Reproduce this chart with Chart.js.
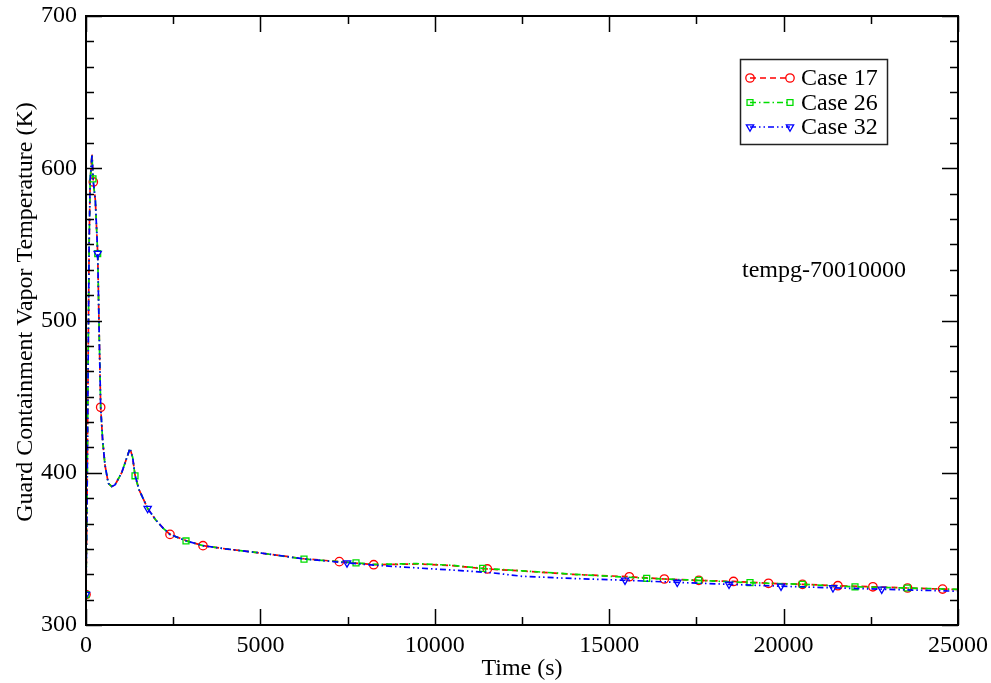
<!DOCTYPE html>
<html>
<head>
<meta charset="utf-8">
<script src="https://cdn.jsdelivr.net/npm/chart.js@4/dist/chart.umd.min.js"></script>
<style>
  body { margin: 0; background: #fff; }
  #wrap { width: 991px; height: 683px; }
</style>
</head>
<body>
<div id="wrap"><canvas id="myChart" width="991" height="683"></canvas></div>
<script>
// values (time in s, temperature in K)
let t17 = [0, 30, 60, 90, 120, 172, 210, 268, 335, 382, 421, 478, 545, 640, 736, 831, 1023, 1261, 1338, 1405, 1519, 1768, 2000, 2217, 2408, 2867, 3354, 4000, 5000, 6250, 7263, 8248, 9480, 10500, 11506, 12500, 14000, 15577, 16580, 17569, 18564, 19567, 20542, 21557, 22560, 23554, 24558, 25000];
let v17 = [320, 380, 470, 550, 592, 609, 591, 579, 544, 487, 443, 421, 405, 393, 391, 392, 400, 416, 410, 398.5, 389, 376.5, 369, 363.5, 359.5, 355.5, 352.1, 350, 347.3, 343.5, 341.6, 339.6, 340.1, 339, 336.8, 335.5, 333.2, 331.7, 330.2, 329.3, 328.6, 327.4, 326.7, 325.8, 325.1, 324.3, 323.6, 323.3];
let mark17 = [0, 210, 421, 2408, 3354, 7263, 8248, 11506, 15577, 16580, 17569, 18564, 19567, 20542, 21557, 22560, 23554, 24558];

let t26 = [0, 30, 60, 90, 120, 172, 200, 268, 335, 382, 421, 478, 545, 640, 736, 831, 1023, 1261, 1338, 1405, 1519, 1768, 2000, 2217, 2408, 2867, 3354, 4000, 5000, 6250, 7263, 7741, 8248, 9480, 10500, 11373, 12500, 14000, 16075, 17566, 19037, 20536, 22047, 23547, 25000];
let v26 = [320, 380, 470, 550, 592, 609, 593, 579, 544, 487, 443, 421, 405, 393, 391, 392, 400, 416, 410, 398, 389, 376.5, 369, 363.5, 359.5, 355.2, 352.1, 350, 347.3, 343.3, 341.6, 340.8, 339.8, 340.3, 339.2, 337.2, 335.6, 333.3, 330.7, 329.3, 327.8, 326.7, 325.1, 324.3, 323.4];
let mark26 = [0, 200, 335, 1405, 2867, 6250, 7741, 11373, 16075, 17566, 19037, 20536, 22047, 23547];

let t32 = [0, 30, 60, 90, 120, 172, 210, 268, 335, 382, 421, 478, 545, 640, 736, 831, 1023, 1261, 1338, 1405, 1519, 1768, 2000, 2217, 2408, 2867, 3354, 4000, 5000, 6250, 7483, 8248, 9480, 10915, 11677, 12500, 14000, 15453, 16952, 18435, 19926, 21416, 22813, 25000];
let v32 = [320, 380, 470, 550, 592, 609, 591, 579, 544, 487, 443, 421, 405, 393, 391, 392, 400, 416, 410, 398.5, 389, 376.5, 369, 363.5, 359.5, 355.3, 352.1, 350, 347.3, 343.4, 340.8, 339.3, 337.5, 335.5, 334.2, 332, 330.5, 329.4, 328, 326.7, 325.5, 324.4, 323.5, 322.2];
let mark32 = [0, 335, 1768, 7483, 15453, 16952, 18435, 19926, 21416, 22813];

let seriesNames = ['Case 17', 'Case 26', 'Case 32'];
let noteText = 'tempg-70010000';
let yTitle = 'Guard Containment Vapor Temperature (K)';

const FONT = "'Liberation Serif', 'Times New Roman', serif";
const FSIZE = 24;

function toPoints(ts, vs) {
    return ts.map((t, i) => ({ x: t, y: vs[i] }));
}

function markRadius(marks) {
    return function(ctx) {
        let p = ctx.raw;
        return p && marks.includes(p.x) ? 4.2 : 0;
    };
}

// scale boxes with exact sizes and no label overhang padding
function fixBox(w, h) {
    return function(s) {
        if (w) s.width = w;
        if (h) s.height = h;
        s.paddingTop = 0;
        s.paddingBottom = 0;
        s.paddingLeft = 0;
        s.paddingRight = 0;
    };
}

// inward ticks and box frame like the original plot
const framePlugin = {
    id: 'frame',
    afterDatasetsDraw(chart) {
        const ctx = chart.ctx;
        const a = chart.chartArea;
        const xs = chart.scales.x;
        const ys = chart.scales.y;
        ctx.save();
        ctx.strokeStyle = '#000';
        ctx.lineWidth = 1.5;
        for (let v = 0; v <= 25000; v += 2500) {
            let px = Math.round(xs.getPixelForValue(v)) + 0.5;
            let len = (v % 5000 === 0) ? 16 : 8;
            ctx.beginPath();
            ctx.moveTo(px, a.bottom); ctx.lineTo(px, a.bottom - len);
            ctx.moveTo(px, a.top); ctx.lineTo(px, a.top + len);
            ctx.stroke();
        }
        for (let k = 0; k <= 24; k++) {
            let v = 300 + k * 100 / 6;
            let py = Math.round(ys.getPixelForValue(v)) + 0.5;
            let len = (k % 6 === 0) ? 16 : 8;
            ctx.beginPath();
            ctx.moveTo(a.left, py); ctx.lineTo(a.left + len, py);
            ctx.moveTo(a.right, py); ctx.lineTo(a.right - len, py);
            ctx.stroke();
        }
        ctx.lineWidth = 2;
        ctx.strokeRect(a.left, a.top, a.right - a.left, a.bottom - a.top);

        ctx.fillStyle = '#000';
        ctx.font = FSIZE + 'px ' + FONT;
        // run label
        ctx.textAlign = 'left';
        ctx.textBaseline = 'middle';
        ctx.fillText(noteText, xs.getPixelForValue(18807), ys.getPixelForValue(533));
        // y axis title
        ctx.translate(26, 312);
        ctx.rotate(-Math.PI / 2);
        ctx.textAlign = 'center';
        ctx.fillText(yTitle, 0, 0);
        ctx.restore();
    }
};

// legend box: marker - line - marker, then name
const boxLegend = {
    id: 'boxLegend',
    afterDraw(chart) {
        const ctx = chart.ctx;
        ctx.save();
        ctx.fillStyle = '#fff';
        ctx.fillRect(740, 59, 147, 85);
        ctx.strokeStyle = '#222';
        ctx.lineWidth = 1.5;
        ctx.strokeRect(740.5, 59.5, 147, 85);
        chart.data.datasets.forEach((ds, i) => {
            let y = 78 + i * 24.5;
            ctx.strokeStyle = ds.borderColor;
            ctx.lineWidth = ds.borderWidth;
            ctx.setLineDash(ds.borderDash);
            ctx.beginPath();
            ctx.moveTo(750, y); ctx.lineTo(790, y);
            ctx.stroke();
            ctx.setLineDash([]);
            let opt = { pointStyle: ds.pointStyle, radius: 4.2, rotation: ds.pointRotation || 0, borderWidth: 1.3 };
            ctx.fillStyle = 'rgba(0,0,0,0)';
            ctx.strokeStyle = ds.borderColor;
            ctx.lineWidth = 1.3;
            Chart.helpers.drawPoint(ctx, opt, 750, y);
            Chart.helpers.drawPoint(ctx, opt, 790, y);
            ctx.fillStyle = '#000';
            ctx.font = FSIZE + 'px ' + FONT;
            ctx.textAlign = 'left';
            ctx.textBaseline = 'middle';
            ctx.fillText(ds.label, 801, y + 1);
        });
        ctx.restore();
    }
};

const ctx = document.getElementById('myChart').getContext('2d');
new Chart(ctx, {
    type: 'line',
    data: {
        datasets: [
            {
                label: seriesNames[0],
                data: toPoints(t17, v17),
                borderColor: '#ff0000',
                borderWidth: 1.7,
                borderDash: [6, 4],
                pointStyle: 'circle',
                pointRadius: markRadius(mark17),
                pointBorderWidth: 1.3,
                pointBackgroundColor: 'rgba(0,0,0,0)',
                pointBorderColor: '#ff0000',
                order: 3
            },
            {
                label: seriesNames[1],
                data: toPoints(t26, v26),
                borderColor: '#00dd00',
                borderWidth: 1.7,
                borderDash: [6, 3, 1.5, 3],
                pointStyle: 'rect',
                pointRadius: markRadius(mark26),
                pointBorderWidth: 1.3,
                pointBackgroundColor: 'rgba(0,0,0,0)',
                pointBorderColor: '#00dd00',
                order: 2
            },
            {
                label: seriesNames[2],
                data: toPoints(t32, v32),
                borderColor: '#0000ff',
                borderWidth: 1.7,
                borderDash: [6, 3, 1.5, 3, 1.5, 3],
                pointStyle: 'triangle',
                pointRotation: 180,
                pointRadius: markRadius(mark32),
                pointBorderWidth: 1.3,
                pointBackgroundColor: 'rgba(0,0,0,0)',
                pointBorderColor: '#0000ff',
                order: 1
            },
        ],
    },
    options: {
        responsive: false,
        animation: false,
        layout: { padding: { top: 16, right: 33, left: 0, bottom: 0 } },
        plugins: {
            legend: { display: false },
            tooltip: { enabled: false },
        },
        scales: {
            x: {
                type: 'linear',
                min: 0,
                max: 25000,
                grid: { display: false, drawTicks: false },
                border: { display: false },
                ticks: {
                    stepSize: 5000,
                    color: '#000',
                    padding: 6,
                    maxRotation: 0,
                    font: { family: FONT, size: FSIZE },
                    callback: v => String(v),
                },
                title: {
                    display: true,
                    text: 'Time (s)',
                    color: '#000',
                    padding: { top: 0, bottom: 0 },
                    font: { family: FONT, size: FSIZE },
                },
                afterFit: fixBox(0, 58),
            },
            y: {
                min: 300,
                max: 700,
                grid: { display: false, drawTicks: false },
                border: { display: false },
                ticks: {
                    stepSize: 100,
                    color: '#000',
                    padding: 9,
                    font: { family: FONT, size: FSIZE },
                },
                afterFit: fixBox(86, 0),
            },
        },
    },
    plugins: [framePlugin, boxLegend],
});
</script>
</body>
</html>
